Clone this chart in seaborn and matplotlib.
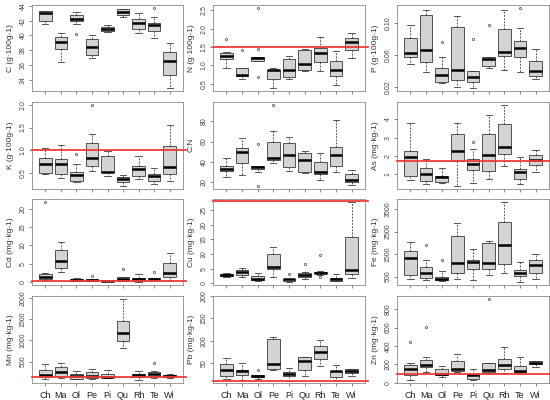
import numpy as np
import pandas as pd
import matplotlib
matplotlib.use("Agg")
import matplotlib.pyplot as plt
import seaborn as sns

cats = ["Ch", "Ma", "Ol", "Pe", "Pi", "Qu", "Rh", "Te", "Wi"]

C_vals = [
    [41.6, 41.8, 42.0, 42.6, 43.1, 43.2, 43.3, 43.3, 43.3],
    [36.4, 37.5, 38.1, 38.6, 39.1, 39.5, 39.8, 40.1, 40.4],
    [40.2, 41.6, 42.0, 42.1, 42.3, 42.6, 42.8, 43.0, 43.2],
    [36.9, 37.1, 37.3, 37.9, 38.4, 39.0, 39.5, 39.8, 40.0],
    [40.5, 40.55, 40.6, 40.8, 40.9, 41.0, 41.2, 41.3, 41.4],
    [42.55, 42.7, 42.8, 43.0, 43.2, 43.4, 43.55, 43.6, 43.6],
    [40.3, 40.6, 40.9, 41.3, 41.75, 42.0, 42.2, 42.6, 43.0],
    [39.6, 40.2, 40.6, 41.0, 41.4, 41.6, 41.75, 42.5, 43.7],
    [32.9, 34.0, 34.7, 35.6, 36.5, 37.1, 37.7, 38.4, 39.0],
]
N_vals = [
    [0.93, 1.05, 1.17, 1.22, 1.26, 1.31, 1.35, 1.375, 1.71],
    [0.62, 0.68, 0.705, 0.73, 0.75, 0.85, 0.93, 0.93, 1.42],
    [0.69, 1.125, 1.125, 1.16, 1.20, 1.22, 1.24, 1.46, 2.56],
    [0.39, 0.55, 0.64, 0.80, 0.87, 0.88, 0.88, 0.90, 0.93],
    [0.62, 0.66, 0.69, 0.78, 0.87, 1.0, 1.18, 1.22, 1.27],
    [0.84, 0.86, 0.87, 0.95, 1.04, 1.2, 1.42, 1.44, 1.46],
    [0.84, 0.95, 1.09, 1.2, 1.33, 1.4, 1.48, 1.6, 1.78],
    [0.46, 0.6, 0.72, 0.8, 0.88, 1.0, 1.13, 1.3, 1.40],
    [1.2, 1.3, 1.42, 1.55, 1.64, 1.7, 1.75, 1.82, 1.88],
]
P_vals = [
    [0.0485, 0.053, 0.057, 0.060, 0.062, 0.072, 0.0814, 0.09, 0.098],
    [0.038, 0.045, 0.0518, 0.058, 0.066, 0.09, 0.1107, 0.114, 0.1165],
    [0.025, 0.0255, 0.0262, 0.031, 0.0353, 0.040, 0.0435, 0.058, 0.0765],
    [0.020, 0.025, 0.029, 0.035, 0.0406, 0.07, 0.095, 0.102, 0.1087],
    [0.0187, 0.022, 0.0258, 0.029, 0.0324, 0.036, 0.0394, 0.0394, 0.0806],
    [0.0435, 0.045, 0.0468, 0.051, 0.0546, 0.056, 0.058, 0.058, 0.098],
    [0.0406, 0.05, 0.0588, 0.061, 0.064, 0.08, 0.093, 0.105, 0.1165],
    [0.038, 0.047, 0.057, 0.063, 0.069, 0.073, 0.0777, 0.0938, 0.119],
    [0.0299, 0.032, 0.034, 0.037, 0.0394, 0.046, 0.053, 0.06, 0.0674],
]
K_vals = [
    [0.48, 0.50, 0.51, 0.60, 0.693, 0.76, 0.825, 0.95, 1.044],
    [0.387, 0.43, 0.474, 0.58, 0.693, 0.75, 0.81, 0.95, 1.117],
    [0.30, 0.32, 0.336, 0.40, 0.46, 0.49, 0.518, 0.70, 0.92],
    [0.547, 0.60, 0.657, 0.75, 0.84, 1.0, 1.17, 1.37, 2.0],
    [0.44, 0.53, 0.533, 0.533, 0.533, 0.70, 0.88, 0.95, 0.985],
    [0.226, 0.26, 0.30, 0.33, 0.365, 0.39, 0.409, 0.44, 0.46],
    [0.365, 0.40, 0.438, 0.52, 0.59, 0.62, 0.657, 0.78, 0.876],
    [0.255, 0.30, 0.336, 0.40, 0.445, 0.46, 0.48, 0.55, 0.606],
    [0.328, 0.40, 0.474, 0.55, 0.642, 0.85, 1.095, 1.35, 1.555],
]
CN_vals = [
    [24.9, 28, 31.5, 32.3, 33.1, 34.5, 36.4, 40, 43.6],
    [27.2, 33, 39.3, 45, 50.2, 52, 53.4, 58, 63.9],
    [16.7, 29.8, 33.1, 34.2, 35.4, 36.0, 36.4, 36.4, 58.0],
    [39.3, 40.5, 42.0, 43.0, 44.3, 52, 59.3, 70.5, 96],
    [31.1, 33, 34.8, 41, 46.9, 53, 58.4, 62, 64.9],
    [29.5, 29.6, 29.8, 36, 42, 45, 48.5, 50, 50.8],
    [22.3, 25, 28.2, 29.3, 30.5, 35, 39.7, 44, 48.5],
    [29.8, 33, 36.4, 42, 46.9, 51, 55.1, 68, 81.3],
    [17.4, 18.7, 20.0, 21.2, 22.3, 25, 27.9, 30, 32.1],
]
As_vals = [
    [0.67, 0.78, 0.89, 1.4, 1.91, 2.1, 2.24, 3.0, 3.78],
    [0.44, 0.53, 0.63, 0.8, 1.0, 1.2, 1.35, 1.6, 1.81],
    [0.48, 0.51, 0.54, 0.68, 0.81, 0.85, 0.89, 1.1, 1.31],
    [0.35, 1.0, 1.72, 2.0, 2.24, 2.7, 3.20, 3.5, 3.78],
    [0.48, 0.85, 1.22, 1.38, 1.54, 1.68, 1.81, 2.37, 2.76],
    [0.72, 0.95, 1.17, 1.6, 2.04, 2.6, 3.17, 3.7, 4.24],
    [1.46, 1.8, 2.09, 2.3, 2.46, 3.1, 3.76, 4.3, 4.80],
    [0.43, 0.58, 0.72, 0.9, 1.09, 1.2, 1.28, 1.6, 1.93],
    [1.13, 1.3, 1.5, 1.65, 1.78, 1.9, 2.06, 2.2, 2.30],
]
Cd_vals = [
    [0.55, 0.7, 0.82, 1.1, 1.46, 1.8, 2.1, 2.37, 21.8],
    [2.65, 3.2, 3.74, 4.8, 5.75, 7.3, 8.77, 10, 11.05],
    [0.18, 0.28, 0.37, 0.46, 0.55, 0.64, 0.73, 0.85, 1.0],
    [0.2, 0.3, 0.37, 0.46, 0.55, 0.64, 0.73, 0.85, 1.64],
    [0.2, 0.25, 0.3, 0.33, 0.37, 0.4, 0.45, 0.5, 0.55],
    [0.18, 0.28, 0.37, 0.55, 0.73, 1.0, 1.28, 1.4, 3.56],
    [0.05, 0.2, 0.37, 0.55, 0.73, 0.95, 1.19, 1.6, 2.1],
    [0.46, 0.6, 0.73, 0.82, 0.91, 1.05, 1.19, 1.19, 2.65],
    [0.55, 0.9, 1.28, 1.8, 2.37, 3.7, 5.1, 6.5, 8.0],
]
Cu_vals = [
    [2.33, 2.45, 2.56, 2.8, 3.0, 3.2, 3.33, 3.5, 3.67],
    [2.33, 2.55, 2.78, 3.3, 3.89, 4.2, 4.56, 5.0, 5.33],
    [0.89, 1.05, 1.22, 1.33, 1.44, 2.0, 2.56, 3.1, 3.67],
    [2.33, 3.5, 4.78, 5.2, 5.67, 7.8, 10.0, 11.5, 12.5],
    [0.56, 0.8, 1.0, 1.2, 1.44, 1.55, 1.67, 1.67, 3.33],
    [1.67, 2.0, 2.33, 2.7, 3.0, 3.3, 3.67, 3.9, 6.44],
    [2.33, 2.9, 3.44, 3.55, 3.67, 3.85, 4.0, 4.2, 9.5],
    [0.8, 0.9, 1.0, 1.2, 1.44, 1.7, 1.9, 2.5, 3.1],
    [2.0, 2.7, 3.33, 4.0, 4.56, 10, 15.9, 22, 27.6],
]
Fe_vals = [
    [412, 480, 559, 950, 1338, 1480, 1618, 1850, 2044],
    [353, 400, 456, 550, 647, 800, 941, 1220, 1882],
    [320, 330, 330, 360, 390, 440, 500, 740, 1220],
    [412, 540, 676, 900, 1118, 1700, 2294, 2600, 2882],
    [353, 600, 824, 1000, 1162, 1190, 1220, 1500, 1735],
    [559, 700, 853, 990, 1118, 1550, 1971, 2020, 2074],
    [676, 870, 1074, 1480, 1882, 2400, 2926, 3400, 3809],
    [265, 400, 540, 610, 676, 730, 790, 1000, 1150],
    [412, 530, 647, 820, 1000, 1120, 1235, 1380, 1515],
]
Mn_vals = [
    [92, 115, 139, 162, 186, 245, 304, 380, 445],
    [115, 130, 147, 205, 264, 315, 367, 415, 461],
    [84, 88, 92, 127, 162, 186, 210, 240, 272],
    [92, 103, 115, 135, 155, 200, 249, 290, 327],
    [115, 123, 131, 135, 140, 175, 210, 260, 304],
    [822, 910, 995, 1085, 1175, 1310, 1450, 1700, 1976],
    [68, 105, 145, 165, 186, 198, 210, 240, 272],
    [115, 130, 147, 180, 210, 230, 249, 280, 461],
    [115, 123, 131, 140, 147, 160, 170, 180, 194],
]
Pb_vals = [
    [14, 18, 22.4, 28, 34.9, 42, 49.2, 55, 61.7],
    [12.3, 18, 24, 28, 32.4, 33.5, 34.9, 42, 50],
    [14, 16, 18.2, 20, 22.4, 23, 24, 24, 34],
    [34.9, 36, 37.4, 42, 47.5, 75, 104.4, 106, 107.8],
    [9.8, 15, 20.7, 23.5, 26.5, 28.5, 30.7, 35, 39],
    [22.4, 28, 34.9, 44, 54.2, 59, 64.2, 64.2, 64.2],
    [43.3, 52, 60, 67, 74.3, 82, 89.4, 96, 102],
    [12.3, 16, 19.8, 26, 32.4, 32.8, 33.2, 40, 45.8],
    [22.4, 25, 28.2, 30.3, 32.4, 34.5, 36.6, 37, 37.4],
]
Zn_vals = [
    [32, 60, 86, 120, 151, 175, 198, 210, 440],
    [115, 140, 169, 180, 195, 220, 249, 285, 602],
    [61, 70, 79, 88, 97, 120, 144, 165, 187],
    [115, 120, 126, 138, 151, 195, 241, 280, 313],
    [32, 38, 43, 60, 79, 85, 90, 120, 151],
    [90, 100, 115, 124, 133, 175, 213, 213, 908],
    [105, 125, 144, 170, 198, 230, 259, 320, 386],
    [97, 105, 115, 119, 123, 155, 187, 240, 285],
    [169, 190, 205, 210, 216, 225, 234, 238, 241],
]

labels = ["C (g·100g-1)", "N (g·100g-1)", "P (g·100g-1)",
          "K (g·100g-1)", "C:N", "As (mg·kg-1)",
          "Cd (mg·kg-1)", "Cu (mg·kg-1)", "Fe (mg·kg-1)",
          "Mn (mg·kg-1)", "Pb (mg·kg-1)", "Zn (mg·kg-1)"]
ref_lines = [None, 1.5, None, 1.0, None, 1.7, 0.3, 28, None, 130, 10, 100]
yticks = [[34, 36, 38, 40, 42, 44], [0.5, 1.0, 1.5, 2.0, 2.5], [0.02, 0.06, 0.10],
          [0.5, 1.0, 1.5, 2.0], [20, 40, 60, 80], [1, 2, 3, 4],
          [0, 5, 10, 15, 20], [0, 5, 10, 15, 20, 25], [500, 1500, 2500, 3500],
          [500, 1000, 1500, 2000], [50, 100, 150, 200], [0, 200, 400, 600, 800]]
ytick_labels = [["34", "36", "38", "40", "42", "44"], ["0.5", "1.0", "1.5", "2.0", "2.5"],
                ["0.02", "0.06", "0.10"], ["0.5", "1.0", "1.5", "2.0"],
                ["20", "40", "60", "80"], ["1", "2", "3", "4"],
                ["0", "5", "10", "15", "20"], ["0", "5", "10", "15", "20", "25"],
                ["500", "1500", "2500", "3500"], ["500", "1000", "1500", "2000"],
                ["50", "100", "150", "200"], ["0", "200", "400", "600", "800"]]
all_vals = [C_vals, N_vals, P_vals, K_vals, CN_vals, As_vals,
            Cd_vals, Cu_vals, Fe_vals, Mn_vals, Pb_vals, Zn_vals]

plt.rcParams["font.family"] = ["Liberation Sans", "DejaVu Sans"]

W, H = 550, 400
fig = plt.figure(figsize=(5.5, 4.0), dpi=100)

col_l = [32, 213, 397]
col_r = [183, 365, 549]
row_t = [5, 101.5, 199, 296]
row_b = [91, 189, 285, 383]

frame_col = "#8a8a8a"
for i, vals in enumerate(all_vals):
    r, c = divmod(i, 3)
    ax = fig.add_axes([col_l[c] / W, (H - row_b[r]) / H,
                       (col_r[c] - col_l[c]) / W, (row_b[r] - row_t[r]) / H])
    df = pd.DataFrame({"cat": np.repeat(cats, [len(v) for v in vals]),
                       "val": np.concatenate([np.asarray(v, float) for v in vals])})
    sns.boxplot(data=df, x="cat", y="val", order=cats, ax=ax,
                color="#D3D3D3", saturation=1, width=0.8, whis=1.5,
                linecolor="#3a3a3a", linewidth=0.6,
                medianprops={"color": "black", "linewidth": 1.8},
                whiskerprops={"linestyle": (0, (2.2, 1.6)), "linewidth": 0.6},
                capprops={"linewidth": 0.6},
                flierprops={"marker": "o", "markersize": 1.6,
                            "markerfacecolor": "none", "markeredgecolor": "#444444",
                            "markeredgewidth": 0.5})
    # shorten caps to half box width (R staplewex)
    for ln in ax.lines:
        xd = np.asarray(ln.get_xdata(), float)
        yd = np.asarray(ln.get_ydata(), float)
        if len(xd) == 2 and yd[0] == yd[1] and abs(xd[1] - xd[0]) > 0 and ln.get_linewidth() < 1:
            m = xd.mean()
            ln.set_xdata([m - 0.2, m + 0.2])
    allv = np.concatenate(vals)
    lo, hi = allv.min(), allv.max()
    pad = 0.04 * (hi - lo)
    ax.set_ylim(lo - pad, hi + pad)
    ax.set_xlim(-0.86, 8.86)
    ax.set_yticks(yticks[i])
    ax.set_yticklabels(ytick_labels[i], rotation=90, va="center")
    ax.set_ylabel(labels[i], fontsize=6, color="#333333", labelpad=4)
    ax.set_xlabel("")
    ax.set_xticks(range(len(cats)))
    if r == 3:
        ax.set_xticklabels(cats, fontsize=6.5, color="#222222")
    else:
        ax.set_xticklabels([])
    ax.tick_params(axis="y", labelsize=5, colors="#555555", length=2.5, width=0.5, pad=1.5)
    ax.tick_params(axis="x", colors="#555555", length=2.5, width=0.5, pad=3.5)
    for lab in ax.get_xticklabels():
        lab.set_color("#222222")
    for lab in ax.get_yticklabels():
        lab.set_color("#444444")
    for s in ax.spines.values():
        s.set_color(frame_col)
        s.set_linewidth(0.6)
    if ref_lines[i] is not None:
        ax.plot([0, 1.02], [ref_lines[i], ref_lines[i]], color="#F03A3A", lw=1.3,
                transform=ax.get_yaxis_transform(), clip_on=False, zorder=5)

fig.savefig("out.png", dpi=100)
